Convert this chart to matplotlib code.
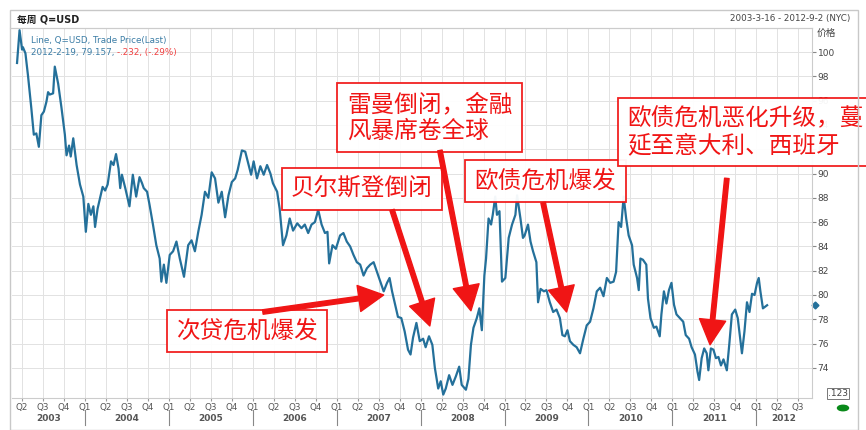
import matplotlib
import matplotlib.pyplot as plt
import matplotlib.transforms as mtransforms
from matplotlib.patches import Rectangle, Circle
from matplotlib.lines import Line2D

matplotlib.use("Agg")

plt.rcParams["font.family"] = ["DejaVu Sans", "Noto Sans CJK SC"]
CJK = ["Noto Sans CJK SC", "DejaVu Sans"]

# weekly Q=USD index, dates as decimal years
dates = [
    2003.19, 2003.22, 2003.25, 2003.26, 2003.29, 2003.32, 2003.36, 2003.39, 2003.42, 2003.45,
    2003.48, 2003.51, 2003.54, 2003.56, 2003.58, 2003.62, 2003.64, 2003.68, 2003.72, 2003.76,
    2003.78, 2003.81, 2003.83, 2003.86, 2003.90, 2003.94, 2003.98,
    2004.01, 2004.04, 2004.07, 2004.10, 2004.12, 2004.15, 2004.18, 2004.21, 2004.24, 2004.27,
    2004.31, 2004.34, 2004.37, 2004.40, 2004.42, 2004.44, 2004.48, 2004.53, 2004.57, 2004.61,
    2004.65, 2004.68, 2004.70, 2004.74, 2004.77, 2004.81, 2004.85, 2004.89, 2004.91, 2004.94,
    2004.97,
    2005.01, 2005.05, 2005.09, 2005.13, 2005.18, 2005.23, 2005.27, 2005.31, 2005.35, 2005.39,
    2005.43, 2005.47, 2005.51, 2005.55, 2005.59, 2005.63, 2005.67, 2005.71, 2005.75, 2005.79,
    2005.82, 2005.87, 2005.91, 2005.95, 2005.98,
    2006.01, 2006.05, 2006.09, 2006.13, 2006.17, 2006.21, 2006.24, 2006.29, 2006.32, 2006.36,
    2006.40, 2006.44, 2006.48, 2006.53, 2006.58, 2006.62, 2006.66, 2006.70, 2006.74, 2006.78,
    2006.82, 2006.86, 2006.89, 2006.91, 2006.95, 2006.99,
    2007.04, 2007.08, 2007.12, 2007.16, 2007.20, 2007.24, 2007.28, 2007.32, 2007.36, 2007.40,
    2007.44, 2007.48, 2007.52, 2007.56, 2007.60, 2007.63, 2007.66, 2007.69, 2007.73, 2007.77,
    2007.81, 2007.85, 2007.88, 2007.91, 2007.95, 2007.99,
    2008.03, 2008.06, 2008.10, 2008.14, 2008.17, 2008.21, 2008.24, 2008.27, 2008.30, 2008.34,
    2008.38, 2008.42, 2008.46, 2008.49, 2008.54, 2008.57, 2008.60, 2008.63, 2008.67, 2008.70,
    2008.73, 2008.76, 2008.78, 2008.81, 2008.84, 2008.86, 2008.89, 2008.91, 2008.94, 2008.97,
    2009.01, 2009.05, 2009.09, 2009.13, 2009.15, 2009.19, 2009.22, 2009.24, 2009.28, 2009.31,
    2009.34, 2009.38, 2009.40, 2009.43, 2009.47, 2009.50, 2009.54, 2009.58, 2009.62, 2009.66,
    2009.69, 2009.72, 2009.75, 2009.78, 2009.82, 2009.86, 2009.90, 2009.94, 2009.98,
    2010.02, 2010.06, 2010.10, 2010.14, 2010.18, 2010.22, 2010.26, 2010.30, 2010.33, 2010.36,
    2010.39, 2010.42, 2010.45, 2010.48, 2010.52, 2010.54, 2010.58, 2010.60, 2010.62, 2010.65,
    2010.69, 2010.71, 2010.74, 2010.78, 2010.81, 2010.85, 2010.87, 2010.90, 2010.93, 2010.96,
    2010.99,
    2011.02, 2011.05, 2011.09, 2011.13, 2011.16, 2011.20, 2011.23, 2011.27, 2011.30, 2011.32,
    2011.35, 2011.38, 2011.41, 2011.43, 2011.46, 2011.49, 2011.52, 2011.55, 2011.58, 2011.61,
    2011.65, 2011.68, 2011.71, 2011.75, 2011.78, 2011.81, 2011.83, 2011.86, 2011.89, 2011.92,
    2011.95, 2011.98,
    2012.01, 2012.03, 2012.05, 2012.08, 2012.10, 2012.13,
]
prices = [
    99.1, 101.8, 100.2, 100.4, 99.9, 98.1, 95.4, 93.2, 93.3, 92.2,
    94.8, 95.1, 95.9, 96.7, 96.5, 96.6, 98.8, 97.4, 95.4, 93.2,
    91.5, 92.3, 91.4, 92.9, 90.7, 89.1, 88.1,
    85.2, 87.5, 86.6, 87.3, 85.6, 87.1, 88.0, 88.9, 88.6, 89.1,
    91.0, 90.7, 91.6, 90.4, 88.8, 89.9, 88.8, 87.3, 89.9, 88.1,
    89.7, 89.2, 88.8, 88.5, 87.4, 85.8, 84.1, 83.0, 81.1, 82.5,
    81.0,
    83.3, 83.6, 84.4, 83.0, 81.5, 84.1, 84.5, 83.6, 85.2, 86.6,
    88.5, 88.0, 90.1, 89.6, 87.6, 88.5, 86.4, 88.2, 89.3, 89.6,
    90.3, 91.9, 91.8, 90.7, 89.9,
    91.0, 89.6, 90.6, 89.9, 90.7, 90.0, 89.2, 88.5, 87.1, 84.1,
    84.9, 86.3, 85.3, 85.9, 85.5, 85.8, 85.1, 85.8, 86.0, 87.0,
    85.8, 85.1, 85.2, 82.6, 84.1, 83.8,
    84.9, 85.1, 84.4, 84.0, 83.3, 82.7, 82.5, 81.6, 82.2, 82.5,
    82.7, 81.9, 81.1, 80.3, 81.0, 81.4, 80.3, 79.4, 78.2, 78.1,
    77.0, 75.5, 75.1, 76.5, 77.7, 76.2,
    76.4, 75.7, 76.6, 75.9, 74.0, 72.3, 72.9, 71.8, 72.3, 73.4,
    72.6, 73.3, 74.1, 72.6, 72.2, 73.1, 75.9, 77.3, 78.1, 78.9,
    77.1, 81.6, 83.0, 86.3, 85.8, 86.6, 88.1, 86.6, 86.9, 81.1,
    81.4, 84.7, 85.8, 86.6, 88.2, 86.3, 84.7, 84.9, 85.8, 84.4,
    83.6, 82.7, 79.4, 80.5, 80.3, 80.4, 79.4, 78.6, 78.8, 78.1,
    76.7, 76.6, 77.1, 76.2, 75.9, 75.7, 75.2, 76.4, 77.5,
    77.8, 78.9, 80.3, 80.6, 79.9, 81.4, 81.0, 81.1, 81.9, 86.0,
    85.6, 88.1, 86.3, 84.9, 84.1, 82.5, 81.4, 80.4, 83.0, 82.9,
    82.5, 79.7, 78.1, 77.3, 77.4, 76.6, 78.4, 80.3, 79.3, 80.4,
    81.0,
    79.2, 78.4, 78.1, 77.8, 76.7, 76.4, 75.7, 75.1, 73.7, 73.0,
    74.8, 75.6, 75.2, 73.8, 75.6, 75.5, 74.8, 74.9, 74.2, 74.7,
    73.8, 76.0, 78.4, 78.8, 78.1, 76.4, 75.2, 77.0, 79.4, 78.6,
    80.1, 80.0,
    81.0, 81.4, 80.3, 78.9, 79.0, 79.157,
]

years = list(range(2003, 2013))
y_ticks = [74, 76, 78, 80, 82, 84, 86, 88, 90, 92, 94, 96, 98, 100]

# (text, text position, arrow tail, arrow head, horizontal alignment)
notes = [
    ("次贷危机爆发", (2005.93, 77.0), (2006.12, 78.6), (2007.56, 80.0), "center"),
    ("贝尔斯登倒闭", (2007.30, 88.7), (2007.66, 87.0), (2008.11, 77.45), "center"),
    ("雷曼倒闭，金融\n风暴席卷全球", (2007.12, 94.6), (2008.23, 91.9), (2008.60, 78.7), "left"),
    ("欧债危机爆发", (2009.49, 89.4), (2009.46, 87.6), (2009.74, 78.6), "center"),
    ("欧债危机恶化升级，蔓\n延至意大利、西班牙", (2010.46, 93.4), (2011.65, 89.6), (2011.45, 75.9), "left"),
]

W, H = 866, 430
fig = plt.figure(figsize=(W / 100, H / 100), dpi=100)
fig.patch.set_facecolor("white")


def px(x, y):
    return x / W, 1 - y / H


ax = fig.add_axes([12 / W, 1 - 398 / H, 800 / W, 370 / H])
ax.set_xlim(2003.13, 2012.665)
ax.set_ylim(71.52, 101.98)

line_color = "#24709a"
ax.plot(dates, prices, color=line_color, lw=1.6, zorder=3)

# grid: quarters and every 2 units
quarters = [y + q / 4 for y in years for q in range(4)]
quarters = [q for q in quarters if 2003.2 < q < 2012.6]
ax.set_xticks(quarters)
ax.set_xticklabels(["Q%d" % (round((q % 1) * 4) + 1) for q in quarters])
ax.set_yticks(y_ticks)
ax.grid(True, color="#e2e2e2", lw=0.7, ls="-")
ax.yaxis.tick_right()
ax.tick_params(axis="x", length=2.5, color="#999999", labelsize=6.3,
               labelcolor="#555555", pad=1)
ax.tick_params(axis="y", length=3, color="#888888", labelsize=6.5,
               labelcolor="#444444", pad=1)
ax.spines["left"].set_visible(False)
for side in ["top", "right", "bottom"]:
    ax.spines[side].set_color("#cccccc")
    ax.spines[side].set_linewidth(0.8)

# year row under the quarter labels
trans = mtransforms.blended_transform_factory(ax.transData, ax.transAxes)
x0, x1 = ax.get_xlim()
for yr in years:
    left, right = max(yr, x0), min(yr + 1, x1)
    ax.text((left + right) / 2, -0.055, str(yr), transform=trans, ha="center",
            va="center", fontsize=6.5, fontweight="bold", color="#555555")
    if yr > 2003:
        ax.add_line(Line2D([yr, yr], [-0.033, -0.072], transform=trans,
                           color="#888888", lw=0.8, clip_on=False))

# last value marker and bottom box on the price axis
ytrans = mtransforms.blended_transform_factory(ax.transAxes, ax.transData)
ax.plot([1.004], [prices[-1]], marker="D", ms=3.5, color=line_color,
        transform=ytrans, clip_on=False)
ax.text(1.02, 71.9, ".123", transform=ytrans, fontsize=6.5, color="#444444",
        va="center", ha="left",
        bbox=dict(boxstyle="square,pad=0.15", fc="white", ec="#777777", lw=0.7))

# annotations
red = "#f01515"
for text, pos, tail, head, ha in notes:
    ax.text(pos[0], pos[1], text, ha=ha, va="center", fontsize=17, color=red,
            family=CJK, linespacing=1.2, zorder=6, clip_on=False,
            bbox=dict(boxstyle="square,pad=0.4", fc="white", ec=red, lw=1.3, alpha=0.95))
    ax.annotate("", xy=head, xytext=tail, zorder=7, annotation_clip=False,
                arrowprops=dict(arrowstyle="simple,tail_width=0.18,head_width=1.05,head_length=1.0",
                                mutation_scale=18, color=red, shrinkA=0, shrinkB=0))

# header / frame
fig.add_artist(Rectangle(px(10, 430), 848 / W, 420 / H, transform=fig.transFigure,
                         fill=False, ec="#c8c8c8", lw=1.0))
fig.add_artist(Line2D([10 / W, 812 / W], [1 - 28 / H] * 2, transform=fig.transFigure,
                      color="#cccccc", lw=0.8))
fig.text(*px(17, 19), "每周 Q=USD", fontsize=7, fontweight="bold", color="#222222",
         va="center", ha="left")
fig.text(*px(850, 18), "2003-3-16 - 2012-9-2 (NYC)", fontsize=6.3, color="#444444",
         va="center", ha="right")
fig.text(*px(817, 33), "价格", fontsize=7, color="#444444", va="center", ha="left", family=CJK)

leg1 = fig.text(*px(31, 40), "Line, Q=USD, Trade Price(Last)", fontsize=6.3,
                color="#3a7ca5", va="center", ha="left")
leg2 = fig.text(*px(31, 52), "2012-2-19, 79.157, ", fontsize=6.3,
                color="#3a7ca5", va="center", ha="left")
ax.annotate("-.232, (-.29%)", xy=(1, 0.5), xycoords=leg2, va="center", ha="left",
            fontsize=6.3, color="#f04040", annotation_clip=False)

fig.add_artist(Circle(px(843, 408), 5.5 / W, transform=fig.transFigure,
                      color="#0a8a1a"))

fig.savefig("out.png", dpi=100)
